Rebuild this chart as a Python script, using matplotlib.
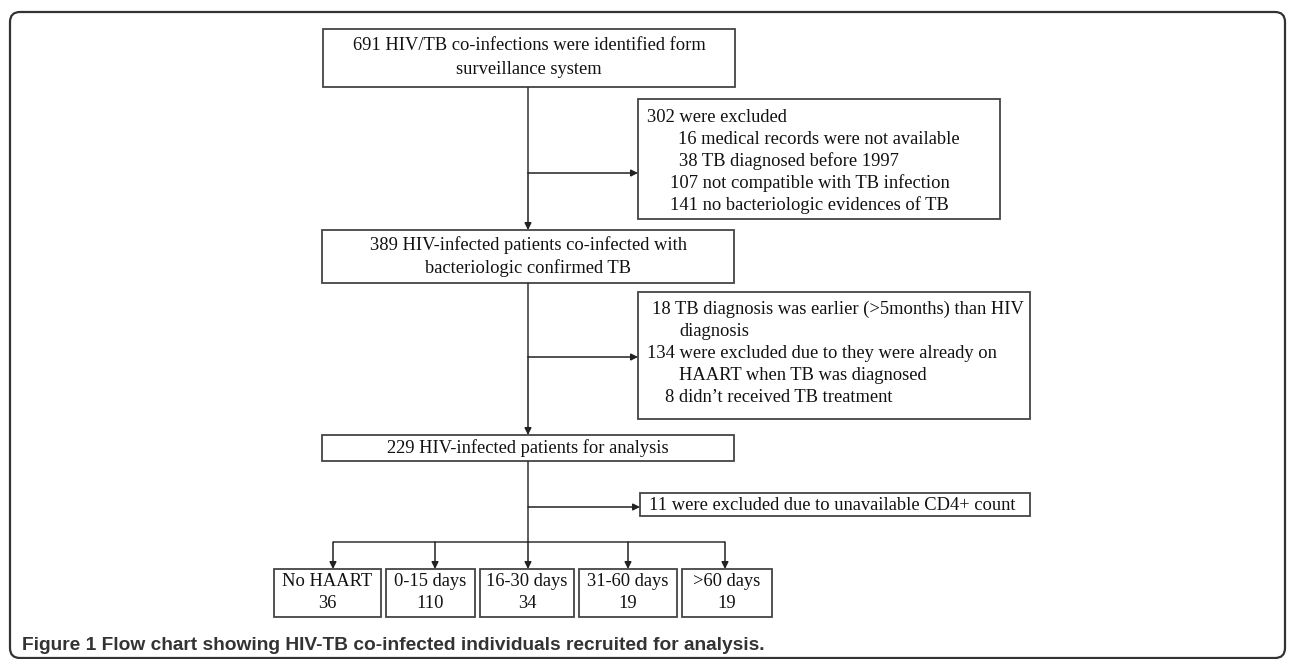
import matplotlib
matplotlib.use("Agg")
import matplotlib.pyplot as plt
from matplotlib.patches import Rectangle, FancyBboxPatch

# flow chart content
top_box = ["691 HIV/TB co-infections were identified form", "surveillance system"]
excl1_head = "302 were excluded"
excl1_counts = [16, 38, 107, 141]
excl1_reasons = ["medical records were not available", "TB diagnosed before 1997",
                 "not compatible with TB infection", "no bacteriologic evidences of TB"]
mid_box = ["389 HIV-infected patients co-infected with", "bacteriologic confirmed TB"]
excl2_lines = ["18 TB diagnosis was earlier (>5months) than HIV", "diagnosis",
               "134 were excluded due to they were already on", "HAART when TB was diagnosed",
               "8 didn\u2019t received TB treatment"]
analysis_box = "229 HIV-infected patients for analysis"
excl3 = "11 were excluded due to unavailable CD4+ count"
groups = ["No HAART", "0-15 days", "16-30 days", "31-60 days", ">60 days"]
group_n = [36, 110, 34, 19, 19]
caption = "Figure 1 Flow chart showing HIV-TB co-infected individuals recruited for analysis."

serif = "Liberation Serif"
fs = 13.3
lc = "#333333"

fig = plt.figure(figsize=(12.9, 6.59), dpi=100)
ax = fig.add_axes([0, 0, 1, 1])
ax.set_xlim(0, 1290)
ax.set_ylim(659, 0)
ax.axis("off")


def box(x0, y0, x1, y1):
    ax.add_patch(Rectangle((x0, y0), x1 - x0, y1 - y0, fill=False, ec="#444444", lw=1.3))


def line(x0, y0, x1, y1):
    ax.plot([x0, x1], [y0, y1], color=lc, lw=1.1, solid_capstyle="butt")


def arrow(x0, y0, x1, y1):
    ax.annotate("", xy=(x1, y1), xytext=(x0, y0),
                arrowprops=dict(arrowstyle="-|>", color="#222222", lw=1.1, mutation_scale=10,
                                shrinkA=0, shrinkB=0))


def txt(x, y, s, ha="center"):
    ax.text(x, y, s, ha=ha, va="center", family=serif, fontsize=fs, color="#111111")


# outer frame
ax.add_patch(FancyBboxPatch((10, 12), 1275, 646, boxstyle="round,pad=0,rounding_size=10",
                            fill=False, ec="#333333", lw=1.6))

spine = 528

# top box
box(323, 29, 735, 87)
txt(529, 45, top_box[0])
txt(529, 70, top_box[1])

line(spine, 87, spine, 173)
arrow(spine, 173, 638, 173)
arrow(spine, 173, spine, 230)

# first exclusion box
box(638, 99, 1000, 219)
txt(647, 117, excl1_head, ha="left")
indents = [678, 679, 670, 670]
for i, (n, r) in enumerate(zip(excl1_counts, excl1_reasons)):
    txt(indents[i], 139 + 22 * i, f"{n} {r}", ha="left")

# 389 box
box(322, 230, 734, 283)
txt(528, 245, mid_box[0])
txt(528, 268, mid_box[1])

line(spine, 283, spine, 357)
arrow(spine, 357, 638, 357)
arrow(spine, 357, spine, 435)

# second exclusion box
box(638, 292, 1030, 419)
x2 = [652, 679, 647, 679, 665]
for i, s in enumerate(excl2_lines):
    txt(x2[i], 309 + 22 * i, s, ha="left")

# 229 box
box(322, 435, 734, 461)
txt(528, 448, analysis_box)

line(spine, 461, spine, 542)
arrow(spine, 507, 640, 507)
box(640, 493, 1030, 516)
txt(649, 506, excl3, ha="left")

# groups
gx0 = [274, 386, 480, 579, 682]
gx1 = [381, 475, 574, 677, 772]
arrow_x = [333, 435, 528, 628, 725]
line(arrow_x[0], 542, arrow_x[-1], 542)
for i, (g, n) in enumerate(zip(groups, group_n)):
    arrow(arrow_x[i], 542, arrow_x[i], 569)
    box(gx0[i], 569, gx1[i], 617)
    cx = (gx0[i] + gx1[i]) / 2
    txt(cx, 582, g)
    txt(cx, 603, str(n))

ax.text(22, 646, caption, ha="left", va="center", family="Liberation Sans",
        fontweight="bold", fontsize=13.8, color="#333333")

fig.savefig("out.png", dpi=100)
